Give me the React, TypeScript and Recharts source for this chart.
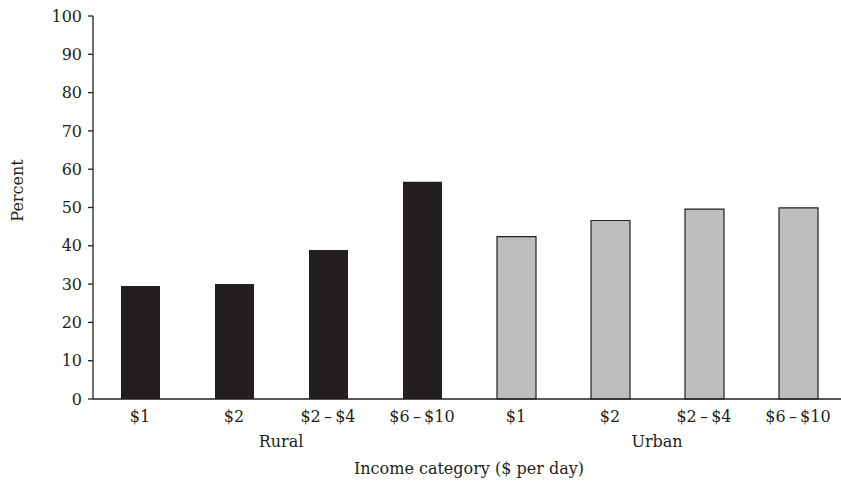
import { BarChart, Bar, Cell, XAxis, YAxis, Label } from 'recharts';

// Income categories per day, rural then urban
const categories = ['$1', '$2', '$2\u2009\u2013\u2009$4', '$6\u2009\u2013\u2009$10', '$1', '$2', '$2\u2009\u2013\u2009$4', '$6\u2009\u2013\u2009$10'];
const groups = ['Rural', 'Rural', 'Rural', 'Rural', 'Urban', 'Urban', 'Urban', 'Urban'];
const percents = [29.5, 30.0, 38.9, 56.7, 42.4, 46.6, 49.6, 49.9];
const yTicks = [0, 10, 20, 30, 40, 50, 60, 70, 80, 90, 100];
const edgeTicks = [0, 1, 2, 3, 4, 5, 6, 7, 8];

const DARK = '#231f20';
const GREY = '#bcbec0';
const FONT = '"DejaVu Serif", serif';

const data = categories.map((label, i) => ({
    label,
    group: groups[i],
    value: percents[i],
}));

const tickStyle = { fill: DARK, fontSize: 16, fontFamily: FONT };

function YTitle({ viewBox }: any) {
    const x = viewBox.x + 17;
    const y = viewBox.y + viewBox.height / 2 - 17;
    return (
        <text
            x={x}
            y={y}
            transform={`rotate(-90 ${x} ${y})`}
            textAnchor="middle"
            dominantBaseline="central"
            fill={DARK}
            fontSize={16}
            fontFamily={FONT}
        >
            Percent
        </text>
    );
}

function XTitle({ viewBox }: any) {
    const x = viewBox.x + viewBox.width / 2;
    const y = viewBox.y + 40;
    return (
        <text x={x} y={y} textAnchor="middle" dominantBaseline="central" fill={DARK} fontSize={16} fontFamily={FONT}>
            Income category ($ per day)
        </text>
    );
}

export default function App() {
    return (
        <div style={{ position: 'absolute', left: 0, top: 0, width: 841, height: 484, overflow: 'hidden', background: '#fff' }}>
            <BarChart width={850} height={484} data={data} margin={{ top: 16, right: 5, left: 0, bottom: 6 }}>
                {/* axis line with tick marks on the category boundaries */}
                <XAxis
                    xAxisId="a_edge"
                    type="number"
                    domain={[0, 8]}
                    ticks={edgeTicks}
                    allowDataOverflow
                    tick={false}
                    tickSize={5}
                    height={5}
                    axisLine={{ stroke: DARK, strokeWidth: 1.3 }}
                    tickLine={{ stroke: DARK, strokeWidth: 1.3 }}
                />
                <XAxis
                    xAxisId="b_cat"
                    dataKey="label"
                    axisLine={false}
                    tickLine={false}
                    tickSize={0}
                    tickMargin={7}
                    height={24}
                    interval={0}
                    tick={tickStyle}
                />
                <XAxis
                    xAxisId="c_group"
                    dataKey="group"
                    allowDuplicatedCategory={false}
                    axisLine={false}
                    tickLine={false}
                    tickSize={0}
                    tickMargin={8}
                    height={50}
                    interval={0}
                    tick={tickStyle}
                >
                    <Label content={<XTitle />} />
                </XAxis>
                <YAxis
                    domain={[0, 100]}
                    ticks={yTicks}
                    interval={0}
                    width={93}
                    tickSize={5}
                    tickMargin={6}
                    axisLine={{ stroke: DARK, strokeWidth: 1.3 }}
                    tickLine={{ stroke: DARK, strokeWidth: 1.3 }}
                    tick={tickStyle}
                >
                    <Label content={<YTitle />} />
                </YAxis>
                <Bar xAxisId="b_cat" dataKey="value" barSize={39} isAnimationActive={false}>
                    {data.map((d, i) => (
                        <Cell
                            key={i}
                            fill={d.group === 'Rural' ? DARK : GREY}
                            stroke={d.group === 'Rural' ? 'none' : DARK}
                            strokeWidth={1.2}
                        />
                    ))}
                </Bar>
            </BarChart>
        </div>
    );
}
